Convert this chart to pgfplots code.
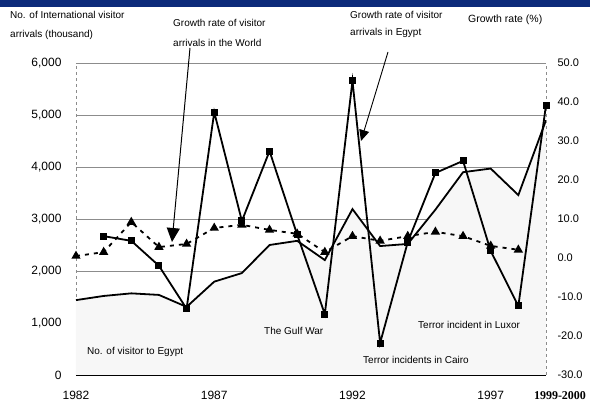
\documentclass[border=0pt]{standalone}
\usepackage{pgfplots}
\pgfplotsset{compat=1.18}
\usepackage{fontspec}
\setmainfont{Liberation Sans}
\newfontfamily\serifb{Liberation Serif}
\usetikzlibrary{arrows.meta}
\definecolor{topblue}{RGB}{12,42,122}
\definecolor{gridgray}{RGB}{140,140,140}

\begin{document}
\begin{tikzpicture}[x=1pt,y=1pt]
% top bar
\fill[topblue] (0,396) rectangle (590,403);

\begin{axis}[
  at={(76pt,28pt)}, anchor=south west, scale only axis,
  width=470pt, height=312pt,
  xmin=0, xmax=17, ymin=0, ymax=6000,
  axis x line*=bottom, axis y line*=left,
  x axis line style={black, line width=1.8pt, -},
  y axis line style={gridgray, dashed, line width=0.6pt, -},
  xtick={0,5,10,15,17},
  xticklabels={1982,1987,1992,1997,{\hspace*{28pt}\serifb\bfseries 1999-2000}},
  xticklabel style={font=\fontsize{12}{14}\selectfont, anchor=north, yshift=-13pt},
  ytick={0,1000,...,6000},
  scaled y ticks=false,
  /pgf/number format/assume math mode=true,
  /pgf/number format/1000 sep={,},
  yticklabel style={font=\fontsize{12}{14}\selectfont, xshift=-11pt},
  major tick length=0pt,
  ymajorgrids,
  major grid style={gridgray, line width=0.8pt},
  clip=false,
]
\addplot[draw=none, fill=black!3] coordinates {
 (0,1440) (1,1520) (2,1570) (3,1540) (4,1310) (5,1795) (6,1960) (7,2500) (8,2580)
 (9,2210) (10,3190) (11,2480) (12,2520) (13,3180) (14,3900) (15,3970) (16,3460) (17,4900)
} \closedcycle;
\addplot[black, line width=1.8pt, no marks] coordinates {
 (0,1440) (1,1520) (2,1570) (3,1540) (4,1310) (5,1795) (6,1960) (7,2500) (8,2580)
 (9,2210) (10,3190) (11,2480) (12,2520) (13,3180) (14,3900) (15,3970) (16,3460) (17,4900)
};
\end{axis}

\begin{axis}[
  at={(76pt,28pt)}, anchor=south west, scale only axis,
  width=470pt, height=312pt,
  xmin=0, xmax=17, ymin=-30, ymax=50,
  axis x line=none, axis y line*=right,
  y axis line style={gridgray, dashed, line width=0.6pt, -},
  ytick={-30,-20,...,50},
  /pgf/number format/assume math mode=true,
  /pgf/number format/fixed, /pgf/number format/fixed zerofill,
  /pgf/number format/precision=1,
  yticklabel style={font=\fontsize{11}{13}\selectfont, xshift=8pt},
  major tick length=0pt,
  clip=false,
]
% world growth rate
\addplot[black, line width=1.8pt, dash pattern=on 4pt off 5pt,
  mark=triangle*, mark size=3.6pt, mark options={solid}] coordinates {
 (0,0.5) (1,1.5) (2,9.2) (3,2.8) (4,3.6) (5,7.7) (6,8.5) (7,7.2) (8,6.2)
 (9,1.5) (10,5.6) (11,4.4) (12,5.6) (13,6.7) (14,5.6) (15,3.1) (16,2.1)
};
% Egypt growth rate
\addplot[black, line width=1.8pt, mark=square*, mark size=2.6pt] coordinates {
 (1,5.6) (2,4.4) (3,-2.0) (4,-13.0) (5,37.4) (6,9.5) (7,27.4) (8,6.0) (9,-14.4)
 (10,45.4) (11,-21.8) (12,4.1) (13,21.8) (14,24.9) (15,1.8) (16,-12.3) (17,39.2)
};
\end{axis}

% annotations
\begin{scope}[every node/.style={font=\fontsize{10}{12}\selectfont, inner sep=0pt, anchor=west}]
\node at (10,388) {No. of International visitor};
\node at (10,368) {arrivals (thousand)};
\node at (173,380) {Growth rate of visitor};
\node at (173,360) {arrivals in the World};
\node at (350,388) {Growth rate of visitor};
\node at (350,370) {arrivals in Egypt};
\node[font=\fontsize{10.5}{12}\selectfont] at (468,383) {Growth rate (\%)};
\node at (264,72) {The Gulf War};
\node at (87,51) {No. of visitor to Egypt};
\node at (418,78) {Terror incident in Luxor};
\node at (363,43) {Terror incidents in Cairo};
\end{scope}
\draw[black, line width=1pt, -{Triangle[width=13pt,length=14pt]}] (190,355) -- (172,161);
\draw[black, line width=0.9pt, -{Triangle[width=10pt,length=11pt]}] (388,351) -- (361,262);

\pgfresetboundingbox
\useasboundingbox (0,0) rectangle (590,403);
\end{tikzpicture}
\end{document}
